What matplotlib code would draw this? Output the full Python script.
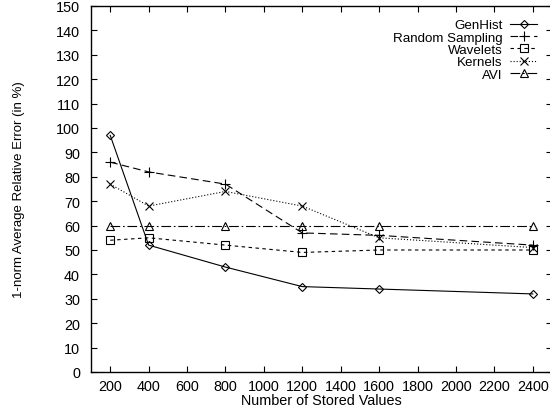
import matplotlib
matplotlib.use('Agg')
import matplotlib.pyplot as plt

# ─── DATOS ────────────────────────────────────────────────────
stored_values = [200, 400, 800, 1200, 1600, 2400]
genhist = [97, 52, 43, 35, 34, 32]
random_sampling = [86, 82, 77, 57, 56, 52]
wavelets = [54, 55, 52, 49, 50, 50]
kernels = [77, 68, 74, 68, 55, 51]
avi = [60, 60, 60, 60, 60, 60]

x_ticks = list(range(200, 2401, 200))
y_ticks = list(range(0, 151, 10))

plt.rcParams['font.family'] = ['Liberation Sans', 'DejaVu Sans']
plt.rcParams['lines.scale_dashes'] = False

fig = plt.figure(figsize=(5.5, 4.1), dpi=100)
ax = fig.add_axes([91 / 550, 37 / 410, 461 / 550, 366 / 410])

common = dict(color="black", lw=0.8, markerfacecolor="none",
              markeredgecolor="black", markeredgewidth=0.8)
ax.plot(stored_values, genhist, marker="D", ms=4.5, ls="-", label="GenHist", **common)
ax.plot(stored_values, random_sampling, marker="+", ms=7, ls=(0, (5.5, 3)),
        label="Random Sampling", **common)
ax.plot(stored_values, wavelets, marker="s", ms=5.5, ls=(0, (2.5, 2.5)),
        label="Wavelets", **common)
ax.plot(stored_values, kernels, marker="x", ms=6, ls=(0, (0.8, 1.4)),
        label="Kernels", **common)
ax.plot(stored_values, avi, marker="^", ms=5.5, ls=(0, (7, 2, 1.2, 2)),
        label="AVI", **common)

ax.set_xlim(100, 2500)
ax.set_ylim(0, 150)
ax.set_xticks(x_ticks)
ax.set_yticks(y_ticks)
ax.tick_params(direction="in", length=4, width=0.8, top=True, right=True,
               labelsize=10.4)
ax.tick_params(axis="y", pad=8)
ax.tick_params(axis="x", pad=5)
for s in ax.spines.values():
    s.set_linewidth(1.0)

ax.set_xlabel("Number of Stored Values", fontsize=10.4, labelpad=0)
ax.set_ylabel("1-norm Average Relative Error (in %)", fontsize=9.5, labelpad=22)

ax.legend(loc="upper right", bbox_to_anchor=(537 / 550, 390 / 410),
          bbox_transform=fig.transFigure, frameon=False, markerfirst=False,
          fontsize=9.6, labelspacing=0, handlelength=2.0, numpoints=1,
          handletextpad=0.6, borderpad=0, borderaxespad=0)

plt.savefig("out.png", dpi=100)
plt.close()
